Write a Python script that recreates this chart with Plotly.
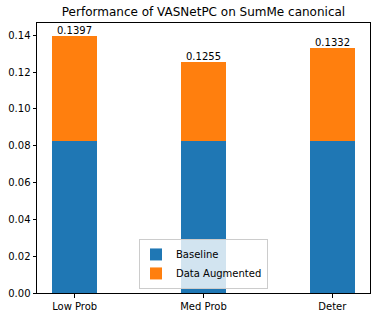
import plotly.graph_objects as go

categories = ["Low Prob", "Med Prob", "Deter"]
baseline = [0.0827, 0.0827, 0.0827]
totals = [0.1397, 0.1255, 0.1332]
augmented = [t - b for t, b in zip(totals, baseline)]
yticks = [0.0, 0.02, 0.04, 0.06, 0.08, 0.10, 0.12, 0.14]
ytick_labels = ["0.00", "0.02", "0.04", "0.06", "0.08", "0.10", "0.12", "0.14"]

font = "DejaVu Sans"
xs = list(range(len(categories)))

fig = go.Figure()
fig.add_trace(go.Bar(x=xs, y=baseline, name="Baseline", width=0.35,
                     marker=dict(color="#1f77b4", line=dict(width=0))))
fig.add_trace(go.Bar(x=xs, y=augmented, name="Data Augmented", width=0.35,
                     marker=dict(color="#ff7f0e", line=dict(width=0))))

for x, t in zip(xs, totals):
    fig.add_annotation(x=x, y=t, text=f"{t:.4f}", showarrow=False,
                       yanchor="bottom", yshift=-2,
                       font=dict(family=font, size=10, color="black"))

fig.update_layout(
    barmode="stack",
    width=378, height=319,
    margin=dict(l=37, r=7, t=23, b=24),
    paper_bgcolor="white", plot_bgcolor="white",
    font=dict(family=font, size=10, color="black"),
    title=dict(text="Performance of VASNetPC on SumMe canonical",
               x=0.5, xanchor="center", xref="paper", y=1 - 12 / 319, yanchor="middle",
               font=dict(family=font, size=12, color="black")),
    showlegend=True,
    legend=dict(x=0.5, xanchor="center", y=0.015, yanchor="bottom",
                traceorder="normal",
                bgcolor="rgba(255,255,255,0.8)", bordercolor="#cccccc", borderwidth=1,
                font=dict(family=font, size=10, color="black"),
                tracegroupgap=0, indentation=-4),
    bargap=0,
)
fig.update_xaxes(range=[-0.2925, 2.2925], tickvals=xs, ticktext=categories,
                 showline=True, linecolor="black", linewidth=1, mirror=True,
                 ticks="outside", ticklen=3.5, tickcolor="black", showgrid=False,
                 zeroline=False, tickfont=dict(family=font, size=10))
fig.update_yaxes(range=[0, 0.1467], tickvals=yticks, ticktext=ytick_labels,
                 showline=True, linecolor="black", linewidth=1, mirror=True,
                 ticks="outside", ticklen=3.5, tickcolor="black", showgrid=False,
                 zeroline=False, tickfont=dict(family=font, size=10))

fig.write_html("out.html",
               config={"displayModeBar": False},
               post_script="document.body.style.margin='0';document.body.style.overflow='hidden';")
